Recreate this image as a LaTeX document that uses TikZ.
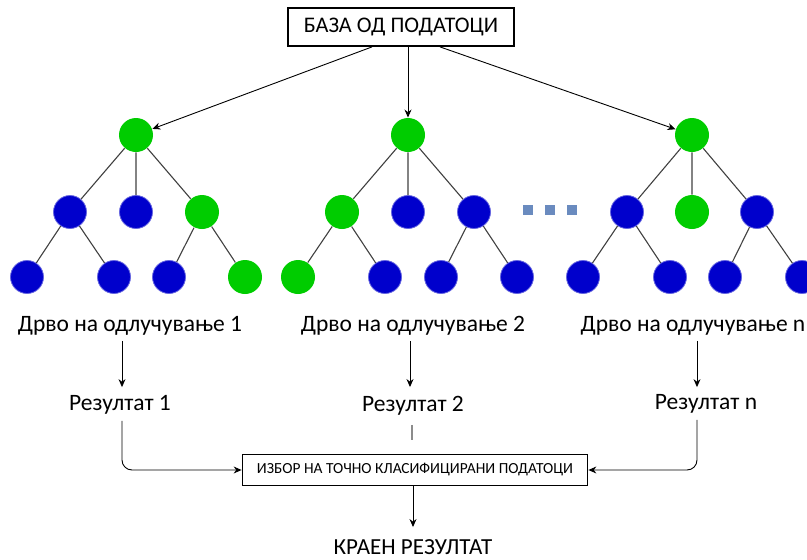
\documentclass[tikz,border=0pt]{standalone}
\usepackage{fontspec}
\setmainfont{Carlito}
\definecolor{leafgreen}{RGB}{0,204,0}
\definecolor{leafblue}{RGB}{0,0,204}
\definecolor{dotblue}{RGB}{106,139,191}
\usetikzlibrary{arrows.meta}

\begin{document}
\begin{tikzpicture}[x=1pt,y=-1pt,
      gn/.style={circle,fill=leafgreen,minimum size=34pt,inner sep=0pt},
      bn/.style={circle,fill=leafblue,draw=leafblue!60!white,line width=0.8pt,minimum size=33pt,inner sep=0pt},
      edge/.style={draw=black!75,line width=1.1pt},
      box/.style={rectangle,draw,line width=1.8pt,align=center},
      lbl/.style={inner sep=0pt,font=\fontsize{23.5}{28}\selectfont},
      dot/.style={rectangle,fill=dotblue,minimum size=10pt,inner sep=0pt},
      >={Stealth[length=8pt,width=7pt]},line width=0.9pt
    ]
    \useasboundingbox (0,0) rectangle (807,560);

    \node[box,minimum width=226pt,minimum height=38pt,font=\fontsize{22.3}{26}\selectfont] (db) at (401,27) {БАЗА ОД ПОДАТОЦИ};

    % tree 1
    \node[gn] (t1) at (136,135) {};
    \node[bn] (t1a) at (70,212) {};
    \node[bn] (t1b) at (136,212) {};
    \node[gn] (t1c) at (202,212) {};
    \node[bn] (t1aa) at (27,277) {};
    \node[bn] (t1ab) at (114,277) {};
    \node[bn] (t1ca) at (169,277) {};
    \node[gn] (t1cb) at (245,277) {};

    % tree 2
    \node[gn] (t2) at (408,135) {};
    \node[gn] (t2a) at (342,212) {};
    \node[bn] (t2b) at (408,212) {};
    \node[bn] (t2c) at (474,212) {};
    \node[gn] (t2aa) at (298,277) {};
    \node[bn] (t2ab) at (385,277) {};
    \node[bn] (t2ca) at (441,277) {};
    \node[bn] (t2cb) at (517,277) {};

    % tree n
    \node[gn] (t3) at (692,135) {};
    \node[bn] (t3a) at (627,212) {};
    \node[gn] (t3b) at (692,212) {};
    \node[bn] (t3c) at (757,212) {};
    \node[bn] (t3aa) at (583,277) {};
    \node[bn] (t3ab) at (670,277) {};
    \node[bn] (t3ca) at (725,277) {};
    \node[bn] (t3cb) at (802,277) {};

    \foreach \t in {t1,t2,t3}
      \draw[edge] (\t) -- (\t a) (\t) -- (\t b) (\t) -- (\t c)
                  (\t a) -- (\t aa) (\t a) -- (\t ab) (\t c) -- (\t ca) (\t c) -- (\t cb);

    \node[dot] (d1) at (528,210) {};
    \node[dot] (d2) at (550,210) {};
    \node[dot] (d3) at (572,210) {};

    \draw[->] ([xshift=-29pt]db.south) -- (t1);
    \draw[->] ([xshift=7pt]db.south) -- (t2);
    \draw[->] ([xshift=39pt]db.south) -- (t3);

    \node[lbl] (lab1) at (130,326) {Дрво на одлучување 1};
    \node[lbl] (lab2) at (413,326) {Дрво на одлучување 2};
    \node[lbl] (lab3) at (693,326) {Дрво на одлучување n};

    \node[lbl] (res1) at (120,405) {Резултат 1};
    \node[lbl] (res2) at (413,406) {Резултат 2};
    \node[lbl] (res3) at (706,404) {Резултат n};

    \draw[->,shorten <=5pt,shorten >=8pt] ([xshift=2pt]lab1.south -| res1.north) -- ([xshift=2pt]res1.north);
    \draw[->,shorten <=5pt,shorten >=9pt] ([xshift=-3pt]lab2.south -| res2.north) -- ([xshift=-3pt]res2.north);
    \draw[->,shorten <=5pt,shorten >=7pt] ([xshift=-9pt]lab3.south -| res3.north) -- ([xshift=-9pt]res3.north);

    \node[box,minimum width=345pt,minimum height=31pt,font=\fontsize{15.4}{18}\selectfont] (sel) at (415,470) {ИЗБОР НА ТОЧНО КЛАСИФИЦИРАНИ ПОДАТОЦИ};

    \draw[->,rounded corners=10pt,shorten <=6pt] ([xshift=2pt]res1.south) |- (sel.west);
    \draw[->,rounded corners=10pt,shorten <=6pt] ([xshift=-9pt]res3.south) |- (sel.east);
    \coordinate (stub) at (412,440);
    \draw[black!45,line width=1.2pt,shorten <=9pt] (res2.south -| stub) -- (stub);

    \node[inner sep=0pt,font=\fontsize{23}{27}\selectfont] (fin) at (413,547) {КРАЕН РЕЗУЛТАТ};
    \draw[->,shorten >=12pt] ([xshift=-2pt]sel.south) -- ([xshift=-2pt]sel.south |- fin.north);
  \end{tikzpicture}
\end{document}
